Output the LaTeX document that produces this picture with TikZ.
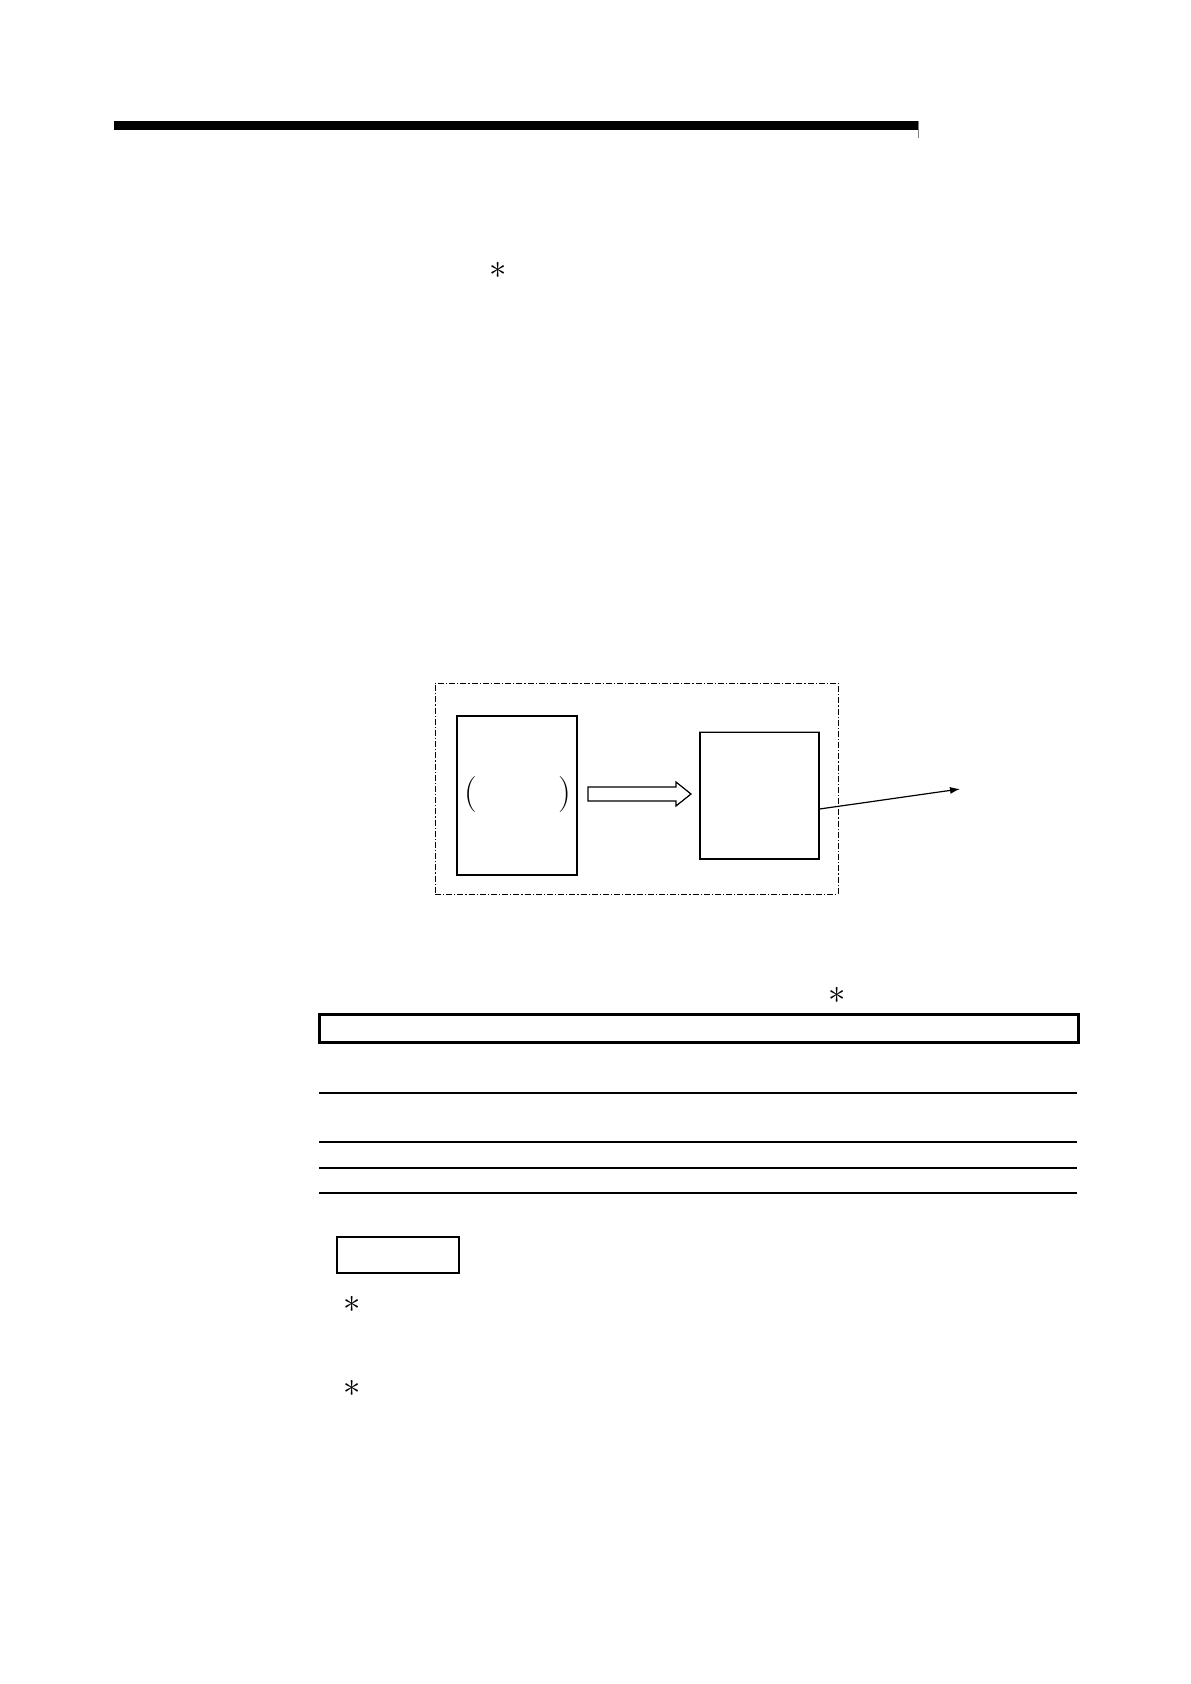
\documentclass[tikz,border=0pt]{standalone}
\usetikzlibrary{calc,arrows.meta}
\begin{document}
\begin{tikzpicture}[x=0.5pt,y=-0.5pt,
  boxthin/.style={draw=black,line width=0.6pt,inner sep=0pt},
  dashdot/.style={draw=black,line width=0.5pt,inner sep=0pt,dash pattern=on 3pt off 1pt on 0.6pt off 1pt},
  thickbox/.style={draw=black,line width=1.5pt,inner sep=0pt},
  paren/.style={inner sep=0pt,font=\fontsize{18}{20}\selectfont},
  star/.style={inner sep=0pt,font=\fontsize{16}{18}\selectfont},
  rulethick/.style={line width=1.3pt},
  rulethin/.style={line width=0.6pt}]
\useasboundingbox (0,0) rectangle (1190,1684);
% header bar
\fill[black] (114,121) rectangle (918,130);
\draw[gray,line width=0.4pt] (918,121) -- (918,138);
% asterisk top
\node[star] (s1) at (498,270) {$\ast$};
% diagram
\node[dashdot,minimum width=201.5pt,minimum height=105.5pt] (dbox) at (636.5,788.5) {};
\node[boxthin,minimum width=60pt,minimum height=79.5pt] (lbox) at (517,795.5) {};
\node[boxthin,minimum width=59.5pt,minimum height=63.5pt] (rbox) at (759.5,795.5) {};
\draw[gray!70,line width=0.8pt] (rbox.north west) -- (rbox.north east);
\node[paren] (lp) at (471,795) {(};
\node[paren] (rp) at (565,795) {)};
% hollow arrow
\draw[line width=0.6pt,fill=white] (588,787) -- (676,787) -- (676,782) -- (691,794) -- (676,806) -- (676,801) -- (588,801) -- cycle;
\coordinate (tipE) at (960,789);
\draw[line width=0.6pt,-{Latex[length=5pt,width=3.5pt]}] ([yshift=-6.75pt]rbox.east) -- (tipE);
% table area
\node[star] (s2) at (837,995) {$\ast$};
\node[thickbox,minimum width=379.5pt,minimum height=14pt] (tbox) at (698.5,1028) {};
\draw[rulethick] (319,1093) -- (1077,1093);
\draw[rulethin] (319,1142) -- (1077,1142);
\draw[rulethick] (319,1168) -- (1077,1168);
\draw[rulethin] (319,1193) -- (1077,1193);
% note box
\node[draw=black,line width=1.3pt,inner sep=0pt,minimum width=61pt,minimum height=18pt] (nbox) at (398,1255) {};
\node[star] (s3) at (352,1304) {$\ast$};
\node[star] (s4) at (352,1388) {$\ast$};
\end{tikzpicture}
\end{document}
